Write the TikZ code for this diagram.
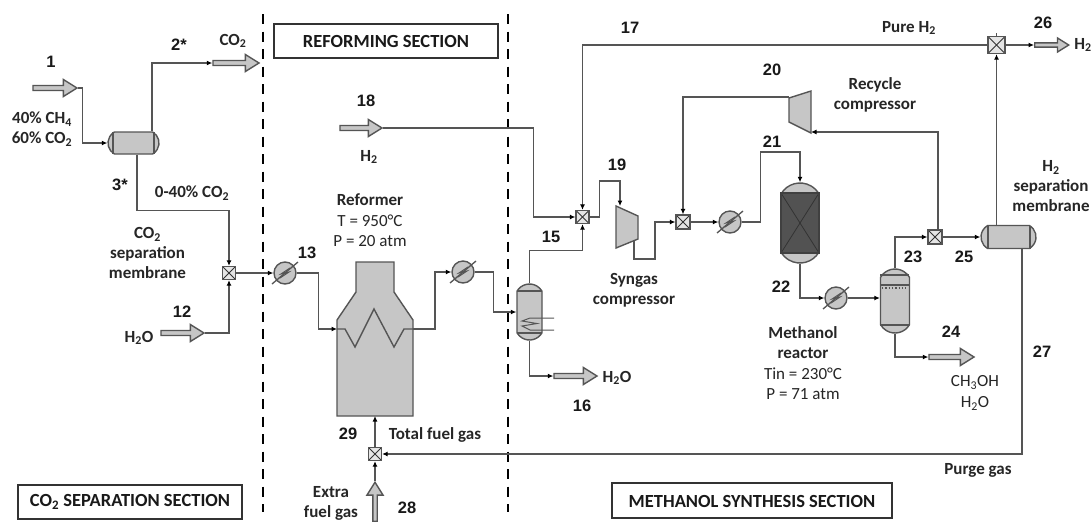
\documentclass[tikz,border=0pt]{standalone}
\usepackage{fontspec}
\setmainfont{Carlito}
\newfontfamily\numfont{Liberation Sans}
\usetikzlibrary{arrows.meta,shapes.arrows,shapes.misc,calc}
\definecolor{pipecol}{HTML}{555555}
\definecolor{fillcol}{HTML}{C6C6C6}
\definecolor{inkcol}{HTML}{262626}
\tikzset{
  pipe/.style={draw=pipecol,line width=1.4pt,line join=miter},
  flow/.style={pipe,-{Latex[length=5.5pt,width=5pt,fill=black,black]}},
  equip/.style={draw=pipecol,line width=1.4pt,fill=fillcol},
  detail/.style={draw=pipecol,line width=1.3pt},
  crossbox/.style={rectangle,draw=pipecol,line width=1.3pt,inner sep=0pt,
    path picture={
      \draw[line width=.8pt,black!80] (path picture bounding box.south west)--(path picture bounding box.north east);
      \draw[line width=.8pt,black!80] (path picture bounding box.north west)--(path picture bounding box.south east);}},
  mixer/.style={crossbox,fill=black!10,minimum size=#1},
  hx/.style={circle,equip,minimum size=22pt,inner sep=0pt},
  membrane/.style={rounded rectangle,rounded rectangle arc length=120,equip,inner sep=0pt},
  vessel/.style={rounded rectangle,rounded rectangle arc length=120,equip,inner sep=0pt,rotate=90},
  stream/.style={single arrow,equip,inner sep=0pt,single arrow head extend=1.7pt,single arrow tip angle=64,minimum height=#1,minimum width=17pt},
  thin stream/.style={stream=#1,minimum width=14pt,single arrow head extend=1.6pt},
  sectionbox/.style={rectangle,draw=black!80,line width=1.2pt,fill=white,inner sep=0pt},
  section line/.style={black,line width=2pt,dash pattern=on 10pt off 7.5pt},
  num/.style={text=black!90,font=\numfont\bfseries\fontsize{16.5}{19}\selectfont,inner sep=0pt},
  lab/.style={text=inkcol,font=\bfseries\fontsize{17}{20}\selectfont,align=center,inner sep=0pt},
  reg/.style={text=inkcol,font=\fontsize{17}{20.5}\selectfont,align=center,inner sep=0pt},
  sec/.style={text=black!90,font=\bfseries\fontsize{18.5}{20}\selectfont,inner sep=0pt},
}
\newcommand{\hxmark}[1]{%
  \draw[detail] ([shift={(-13,11)}]#1.center)--([shift={(13,-11)}]#1.center);
  \draw[detail,line width=1pt] ([shift={(5,-5)}]#1.center)--([shift={(-4,1)}]#1.center)--([shift={(4,-1)}]#1.center)--([shift={(-5,5)}]#1.center);}
\newcommand{\subt}[1]{\textsubscript{#1}}
\begin{document}
\begin{tikzpicture}[x=1pt,y=-1pt]
\useasboundingbox[fill=white] (0,0) rectangle (1091,523);

% section dividers
\coordinate (divAt) at (263,14); \coordinate (divAb) at (263,512);
\coordinate (divBt) at (508,14); \coordinate (divBb) at (508,512);
\draw[section line] (divAt)--(divAb);
\draw[section line] (divBt)--(divBb);

% section boxes
\node[sectionbox,minimum width=224pt,minimum height=34pt] (boxco) at (130,502) {};
\node[sectionbox,minimum width=224pt,minimum height=34pt] (boxref) at (386,41) {};
\node[sectionbox,minimum width=280pt,minimum height=35pt] (boxmeoh) at (752,500.5) {};
\node[sec] (tco) at (130,502) {CO\subt{2} SEPARATION SECTION};
\node[sec] (tref) at (386,41) {REFORMING SECTION};
\node[sec] (tmeoh) at (752,501) {METHANOL SYNTHESIS SECTION};

% feed and product arrows
\node[stream=44pt] (s1) at (53,88) {};
\node[stream=46pt] (s2) at (234,63) {};
\node[stream=43pt] (s12) at (180.5,333) {};
\node[stream=42pt] (s18) at (359,128) {};
\node[stream=43pt] (s16) at (573.5,376) {};
\node[stream=45pt] (s24) at (949.5,357) {};
\node[thin stream=34pt] (s26) at (1050,45) {};
\node[stream=39pt,shape border rotate=90,minimum width=16pt,single arrow head extend=1.85pt] (s28) at (375,503.5) {};

% membranes
\node[membrane,minimum width=51pt,minimum height=22pt] (m1) at (133.5,143) {};
\node[membrane,minimum width=55pt,minimum height=23pt] (m2) at (1008.5,237) {};
\draw[detail] (113,132)--(113,154);
\draw[detail] (154,132)--(154,154);
\draw[detail] (988,226)--(988,249);
\draw[detail] (1030,226)--(1030,249);

% mixers
\node[mixer=13pt] (mix1) at (229,273) {};
\node[mixer=13pt] (mix3) at (582.5,217) {};
\node[mixer=14pt] (mix4) at (683,222) {};
\node[mixer=14pt] (mix5) at (935,237) {};
\node[mixer=17pt] (mix6) at (996.5,45) {};
\node[mixer=13pt] (mix7) at (375,454) {};

% heat exchangers
\node[hx] (h1) at (285,273) {};
\node[hx] (h2) at (463,272) {};
\node[hx] (h3) at (730,222) {};
\node[hx] (h4) at (836,298) {};

% reformer
\draw[equip] (337,416)--(337,320)--(356,292)--(356,262)--(394,262)--(394,292)--(413,320)--(413,416)--cycle;
\coordinate (rin) at (337,329);
\coordinate (rout) at (413,329);
\coordinate (rbase) at (375,416);

% drum
\node[vessel,minimum width=56pt,minimum height=25pt] (d1) at (529.5,312) {};
\draw[detail] (517,291)--(542,291);
\draw[detail] (517,333)--(542,333);
\draw[detail,line width=1pt] (554,318)--(530,318)--(522,321)--(537,323.5)--(522,326)--(530,330)--(554,330);

% compressors
\draw[equip] (616,206)--(638,216)--(638,239)--(616,248)--cycle;
\coordinate (c1in) at (620,206);
\coordinate (c1out) at (634,240);
\draw[equip] (789,98)--(811,91)--(811,133)--(789,122)--cycle;
\coordinate (c2out) at (789,97);
\coordinate (c2in) at (811,132);

% reactor
\node[vessel,minimum width=80pt,minimum height=38pt] (reactor) at (800,223) {};
\node[crossbox,fill=black!68,draw=black!75,minimum width=38pt,minimum height=60pt] (bed) at (800,223) {};

% column
\node[vessel,minimum width=64pt,minimum height=29pt] (col) at (895,301) {};
\draw[detail] (880,275)--(909,275);
\draw[detail] (880,285)--(909,285);
\draw[detail,dotted,line width=1.4pt] (882,288)--(907,288);
\draw[detail] (880,325)--(909,325);

% connectors
\draw[flow] (s1.tip)--++(4,0)|-(m1.west);
\draw[flow] ([xshift=18.5pt]m1.north)|-(s2.tail);
\draw[flow] ([xshift=3.5pt]m1.south)--++(0,56)-|(mix1.north);
\draw[flow] (s12.tip)-|(mix1.south);
\draw[flow] (mix1.east)--(h1.west);
\draw[flow] (h1.east)--++(22,0)|-(rin);
\draw[pipe] (rin)--(345,329)--(355,347)--(374,309)--(394,347)--(404,329)--(rout);
\draw[flow] (rout)--++(22,0)|-(h2.west);
\draw[flow] (h2.east)--++(19,0)|-(d1.north);
\draw[flow] (d1.west)|-(s16.tail);
\draw[flow] (d1.east)--++(0,-33)-|(mix3.south);
\draw[flow] (s18.tip)--++(150,0)|-(mix3.west);
\draw[flow] (mix6.west)-|(mix3.north);
\draw[flow] (mix3.east)--++(10,0)--++(0,-36)-|(c1in);
\draw[flow] (c1out)--++(0,19)--++(21,0)|-(mix4.west);
\draw[flow] (c2out)-|(mix4.north);
\draw[flow] (mix4.east)--(h3.west);
\draw[flow] (h3.east)--++(19,0)--++(0,-70)-|(reactor.east);
\draw[flow] (reactor.west)|-(h4.west);
\draw[flow] (h4.east)--(h4.east -| col.north);
\draw[flow] (col.east)|-(mix5.west);
\draw[flow] (col.west)|-(s24.tail);
\draw[flow] ([xshift=3pt]mix5.north)|-(c2in);
\draw[flow] (mix5.east)--(m2.west);
\draw[flow] (m2.north -| mix6.south)--(mix6.south);
\draw[flow] (mix6.east)--(s26.tail);
\draw[pipe] (mix6.north)--++(0,-3);
\draw[flow] ([xshift=13.5pt]m2.south)|-(mix7.east);
\draw[flow] (s28.tip)--(mix7.south);
\draw[flow] (mix7.north)--(rbase);

\hxmark{h1}\hxmark{h2}\hxmark{h3}\hxmark{h4}

% stream numbers
\node[num] (n1) at (51,62) {1};
\node[num] (n2) at (179,45) {2*};
\node[num] (n3) at (120,185) {3*};
\node[num] (n12) at (182,312) {12};
\node[num] (n13) at (307,253) {13};
\node[num] (n15) at (551,237) {15};
\node[num] (n16) at (582,406) {16};
\node[num] (n17) at (630,28) {17};
\node[num] (n18) at (366,101) {18};
\node[num] (n19) at (617,165) {19};
\node[num] (n20) at (772,70) {20};
\node[num] (n21) at (772,142) {21};
\node[num] (n22) at (781,287) {22};
\node[num] (n23) at (913,257) {23};
\node[num] (n24) at (951,332) {24};
\node[num] (n25) at (964,257) {25};
\node[num] (n26) at (1043,23) {26};
\node[num] (n27) at (1042,352) {27};
\node[num] (n28) at (407,508) {28};
\node[num] (n29) at (348,434) {29};

% labels
\node[lab] (lfeed) at (42,129) {40\% CH\subt{4}\\60\% CO\subt{2}};
\node[lab] (lco2) at (233,41) {CO\subt{2}};
\node[lab] (lpct) at (192,193) {0-40\% CO\subt{2}};
\node[lab] (lmemb) at (147.5,253) {CO\subt{2}\\separation\\membrane};
\node[lab] (lwat) at (139,338) {H\subt{2}O};
\node[lab] (lh) at (369,157) {H\subt{2}};
\node[reg] (lref) at (370,220.5) {\textbf{Reformer}\\T = 950°C\\P = 20 atm};
\node[lab] (lfuel) at (435,435) {Total fuel gas};
\node[lab] (lextra) at (331,503.5) {Extra\\fuel gas};
\node[lab] (lwat2) at (617,378) {H\subt{2}O};
\node[lab] (lsyn) at (634,290.5) {Syngas\\compressor};
\node[lab] (lrec) at (875,95) {Recycle\\compressor};
\node[lab] (lpure) at (909,28) {Pure H\subt{2}};
\node[lab] (lh26) at (1083,45) {H\subt{2}};
\node[lab] (lh2m) at (1051,186) {H\subt{2}\\separation\\membrane};
\node[reg] (lmeoh) at (803,363) {\textbf{Methanol}\\\textbf{reactor}\\Tin = 230°C\\P = 71 atm};
\node[reg] (lprod) at (975,393) {CH\subt{3}OH\\H\subt{2}O};
\node[lab] (lpurge) at (978,470) {Purge gas};
\end{tikzpicture}
\end{document}
